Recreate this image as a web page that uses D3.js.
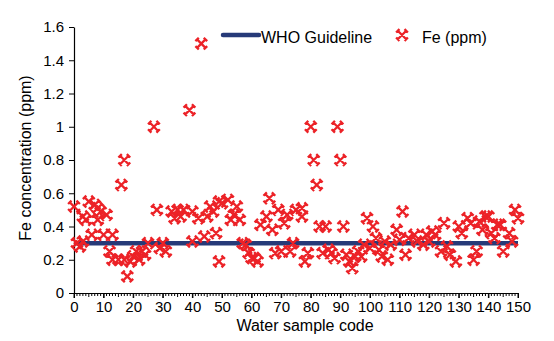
<!DOCTYPE html>
<html>
<head>
<meta charset="utf-8">
<script src="https://cdn.jsdelivr.net/npm/d3@7"></script>
<style>
    body { margin: 0; background: #fff; }
    svg text { font-family: "Liberation Sans", Arial, sans-serif; fill: #000; }
</style>
</head>
<body>
<svg id="chart"></svg>
<script>
// sample code on x, Fe concentration (ppm) on y
const sampleCode = [0, 1, 2, 3, 3, 4, 5, 6, 7, 8, 8, 9, 10, 11, 12, 13, 13, 15, 16, 17,
    17, 18, 19, 20, 21, 22, 23, 24, 25, 27, 28, 29, 30, 31, 33, 34, 35, 36, 37, 39,
    40, 40, 42, 43, 44, 45, 46, 47, 48, 49, 49, 50, 52, 53, 54, 55, 56, 57, 58, 59,
    60, 61, 62, 63, 65, 66, 67, 68, 69, 70, 71, 72, 73, 74, 75, 77, 77, 78, 79, 80,
    81, 82, 83, 84, 85, 86, 87, 88, 89, 90, 91, 92, 93, 94, 95, 96, 97, 98, 99, 100,
    101, 102, 103, 104, 105, 106, 107, 109, 110, 111, 112, 113, 115, 116, 118, 119, 120, 121, 122, 124,
    125, 126, 127, 129, 130, 131, 133, 134, 135, 136, 137, 138, 139, 140, 141, 142, 143, 144, 145, 147,
    148, 149, 150];
const feConc = [0.52, 0.30, 0.28, 0.31, 0.46, 0.44, 0.55, 0.35, 0.53, 0.51, 0.44, 0.49, 0.35, 0.47, 0.25, 0.35, 0.20, 0.20, 0.65, 0.80,
    0.20, 0.10, 0.19, 0.22, 0.25, 0.20, 0.25, 0.23, 0.30, 1.00, 0.50, 0.27, 0.30, 0.25, 0.49, 0.45, 0.50, 0.46, 0.50, 1.10,
    0.49, 0.31, 0.45, 1.50, 0.34, 0.46, 0.52, 0.49, 0.36, 0.55, 0.19, 0.54, 0.56, 0.44, 0.47, 0.52, 0.44, 0.30, 0.29, 0.24,
    0.21, 0.21, 0.19, 0.41, 0.46, 0.57, 0.38, 0.24, 0.50, 0.25, 0.42, 0.47, 0.25, 0.30, 0.50, 0.51, 0.46, 0.19, 0.24, 1.00,
    0.80, 0.65, 0.40, 0.24, 0.40, 0.26, 0.24, 0.21, 1.00, 0.80, 0.40, 0.23, 0.19, 0.15, 0.22, 0.25, 0.22, 0.29, 0.45, 0.27,
    0.40, 0.33, 0.26, 0.22, 0.31, 0.20, 0.29, 0.38, 0.32, 0.49, 0.23, 0.33, 0.35, 0.31, 0.29, 0.35, 0.31, 0.37, 0.35, 0.25,
    0.42, 0.28, 0.23, 0.19, 0.40, 0.36, 0.45, 0.42, 0.20, 0.25, 0.43, 0.38, 0.46, 0.46, 0.36, 0.33, 0.41, 0.41, 0.25, 0.36,
    0.31, 0.50, 0.45];
const whoGuideline = [0.3];
const xTicks = [0, 10, 20, 30, 40, 50, 60, 70, 80, 90, 100, 110, 120, 130, 140, 150];
const yTicks = [0, 0.2, 0.4, 0.6, 0.8, 1, 1.2, 1.4, 1.6];
const legendNames = ["WHO Guideline", "Fe (ppm)"];

function drawChart() {
    var svg = d3.select('#chart');
    const width = 554;
    const height = 341;
    svg.attr('width', width).attr('height', height);

    const red = '#ec2227';
    const navy = '#263a78';

    var x = d3.scaleLinear().domain([0, 150]).range([74, 518]);
    var y = d3.scaleLinear().domain([0, 1.6]).range([293, 27]);

    // minor ticks every sample, medium every 5
    svg.append('g')
        .selectAll('line')
        .data(d3.range(0, 151))
        .enter()
        .append('line')
        .attr('x1', function (d) { return x(d); })
        .attr('x2', function (d) { return x(d); })
        .attr('y1', y(0))
        .attr('y2', function (d) { return y(0) + (d % 10 === 0 ? 5 : (d % 5 === 0 ? 4 : 3)); })
        .attr('stroke', '#000')
        .attr('stroke-width', 1);

    var xAxis = svg.append('g')
        .attr('transform', 'translate(0,' + y(0) + ')')
        .call(d3.axisBottom(x).tickValues(xTicks).tickSize(5).tickSizeOuter(0));
    xAxis.select('.domain').attr('stroke-width', 1.2);
    xAxis.selectAll('text').attr('font-size', 15);

    var yAxis = svg.append('g')
        .attr('transform', 'translate(' + x(0) + ',0)')
        .call(d3.axisLeft(y).tickValues(yTicks).tickFormat(d3.format('')).tickSize(5).tickSizeOuter(0));
    yAxis.select('.domain').attr('stroke-width', 1.2);
    yAxis.selectAll('text').attr('font-size', 15).attr('x', -10);

    svg.selectAll('.tick text').attr('font-family', '"Liberation Sans", Arial, sans-serif').attr('fill', '#000');

    svg.append('text')
        .attr('x', 305)
        .attr('y', 331)
        .attr('text-anchor', 'middle')
        .attr('font-size', 16)
        .text('Water sample code');

    svg.append('text')
        .attr('transform', 'translate(31,158) rotate(-90)')
        .attr('text-anchor', 'middle')
        .attr('font-size', 16)
        .text('Fe concentration (ppm)');

    // WHO guideline line
    svg.selectAll('.who')
        .data(whoGuideline)
        .enter()
        .append('line')
        .attr('class', 'who')
        .attr('x1', x(0))
        .attr('x2', x(150))
        .attr('y1', function (d) { return y(d); })
        .attr('y2', function (d) { return y(d); })
        .attr('stroke', navy)
        .attr('stroke-width', 4.5);

    // the cross marker with little end caps
    const s = 4.2;
    const c = 1.7;
    const markerPath = 'M' + (-s) + ',' + (-s) + 'L' + s + ',' + s +
        'M' + (-s) + ',' + s + 'L' + s + ',' + (-s) +
        'M' + (-s - c) + ',' + (-s + c) + 'L' + (-s + c) + ',' + (-s - c) +
        'M' + (s - c) + ',' + (s + c) + 'L' + (s + c) + ',' + (s - c) +
        'M' + (-s - c) + ',' + (s - c) + 'L' + (-s + c) + ',' + (s + c) +
        'M' + (s - c) + ',' + (-s - c) + 'L' + (s + c) + ',' + (-s + c);

    var points = sampleCode.map(function (d, i) {
        return { code: d, fe: feConc[i] };
    });

    svg.append('g')
        .selectAll('path')
        .data(points)
        .enter()
        .append('path')
        .attr('transform', function (d) {
            return 'translate(' + x(d.code) + ',' + y(d.fe) + ')';
        })
        .attr('d', markerPath)
        .attr('fill', 'none')
        .attr('stroke', red)
        .attr('stroke-width', 2.3);

    // legend
    var legend = svg.append('g');
    legend.append('line')
        .attr('x1', 223).attr('x2', 259)
        .attr('y1', 35).attr('y2', 35)
        .attr('stroke', navy)
        .attr('stroke-width', 4.5)
        .attr('stroke-linecap', 'round');
    legend.append('text')
        .attr('x', 261).attr('y', 43)
        .attr('font-size', 16)
        .text(legendNames[0]);
    legend.append('path')
        .attr('transform', 'translate(402,35)')
        .attr('d', markerPath)
        .attr('fill', 'none')
        .attr('stroke', red)
        .attr('stroke-width', 2.3);
    legend.append('text')
        .attr('x', 422).attr('y', 43)
        .attr('font-size', 16)
        .text(legendNames[1]);
}

drawChart();
</script>
</body>
</html>
